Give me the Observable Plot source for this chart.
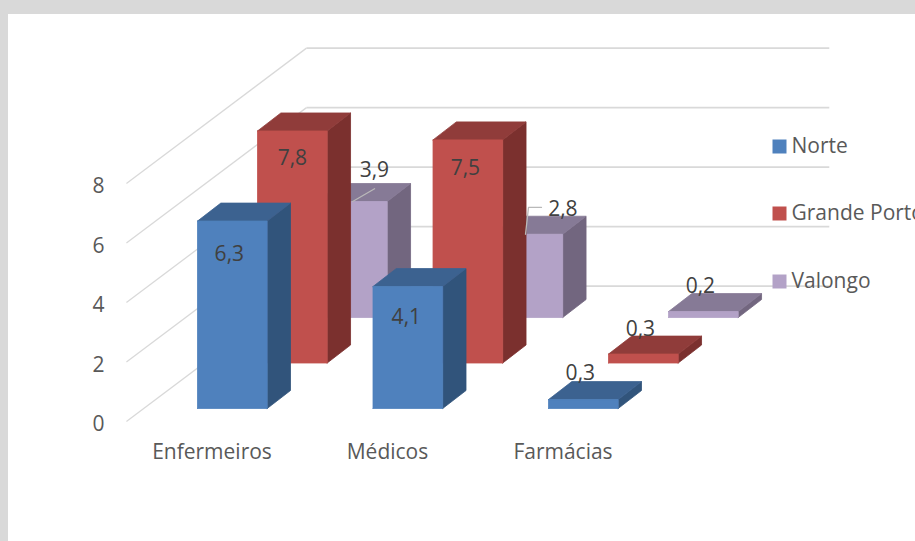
<!DOCTYPE html>
<html>
<head>
<meta charset="utf-8">
<script src="https://cdn.jsdelivr.net/npm/d3@7"></script>
<script src="https://cdn.jsdelivr.net/npm/@observablehq/plot@0.6"></script>
<style>
html,body{margin:0;padding:0;background:#d9d9d9;overflow:hidden;width:915px;height:541px}
#chart{position:absolute;left:8px;top:14px;width:907px;height:527px;background:#fff;overflow:hidden}
svg{display:block;overflow:hidden}
</style>
</head>
<body>
<div id="chart"></div>
<script>
const categories = ["Enfermeiros", "Médicos", "Farmácias"];
const seriesNames = ["Norte", "Grande Porto", "Valongo"];
const norte = [6.3, 4.1, 0.3];
const grandePorto = [7.8, 7.5, 0.3];
const valongo = [3.9, 2.8, 0.2];
const seriesValues = [norte, grandePorto, valongo];
const yTicks = [0, 2, 4, 6, 8];
const frontColors = ["#4f81bd", "#c0504d", "#b3a2c7"];
const topColors = ["#3c6290", "#903c3a", "#867a96"];
const sideColors = ["#31547b", "#7b302e", "#72667f"];

// scale geometry
const xRange = [189, 364.5], yRange = [407, 169], yDomain = [0, 8];
const pxX = (yRange[0] - yRange[1]) / yDomain[1];
const pxCat = xRange[1] - xRange[0];

// oblique projection, in units of the two scales
const barW = 0.397, sideX = 0.133, sideY = 0.605;
const seriesX = 0.342, seriesY = 1.529, floorY = 0.437;
const wallLeft = -0.405, wallX = 0.621, wallRight = 3.6, wallY = 4.55;

const faces = [];
for (let s = 2; s >= 0; s--) {
  for (let c = 0; c < categories.length; c++) {
    const v = seriesValues[s][c];
    const x0 = c + s * seriesX, y0 = floorY + s * seriesY;
    const x1 = x0 + barW, y1 = y0 + v;
    const add = (name, color, pts) =>
      [...pts, pts[0]].forEach(([x, y]) => faces.push({id: `${s}-${c}-${name}`, color, x, y}));
    add("side", sideColors[s], [[x1, y0], [x1 + sideX, y0 + sideY], [x1 + sideX, y1 + sideY], [x1, y1]]);
    add("top", topColors[s], [[x0, y1], [x1, y1], [x1 + sideX, y1 + sideY], [x0 + sideX, y1 + sideY]]);
    add("front", frontColors[s], [[x0, y0], [x1, y0], [x1, y1], [x0, y1]]);
  }
}

// value labels: offset from the top-centre of each bar's front face, in pixels
const labelNudge = [
  [[-3, 33], [-1.5, 31], [-3, -26]],
  [[0, 27], [-2.5, 28], [-3, -25]],
  [[22, -31], [35, -25], [-3, -25]]
];
const labels = [];
seriesValues.forEach((vals, s) => vals.forEach((v, c) => labels.push({
  text: String(v).replace(".", ","),
  x: c + s * seriesX + barW / 2 + labelNudge[s][c][0] / pxCat,
  y: floorY + s * seriesY + v - labelNudge[s][c][1] / pxX
})));

// leader lines for the two Valongo labels
const yTop = (c) => floorY + 2 * seriesY + valongo[c];
const xBar = (c) => c + 2 * seriesX;
const leaders = [
  {id: "a", x: xBar(0) + 0.2, y: yTop(0)},
  {id: "a", x: xBar(0) + 0.325, y: yTop(0) + 0.43},
  {id: "b", x: xBar(1) + 0.185, y: yTop(1)},
  {id: "b", x: xBar(1) + 0.202, y: yTop(1) + 0.9},
  {id: "b", x: xBar(1) + 0.276, y: yTop(1) + 0.9}
];

const marginLeft = 99;
const legendTop = [132, 199, 267];

const font = "'Open Sans', sans-serif";
const chart = Plot.plot({
  width: 907,
  height: 527,
  marginLeft,
  marginBottom: 103,
  marginTop: 0,
  marginRight: 0,
  style: {background: "#fff", fontFamily: font, fontSize: "21px", overflow: "hidden"},
  x: {type: "linear", domain: [0, 1], range: xRange, label: null},
  y: {type: "linear", domain: yDomain, range: yRange, label: null},
  marks: [
    Plot.link(yTicks, {x1: wallLeft, y1: d => d, x2: wallX, y2: d => d + wallY, stroke: "#d9d9d9", strokeWidth: 1.3}),
    Plot.link(yTicks, {x1: wallX, y1: d => d + wallY, x2: wallRight, y2: d => d + wallY, stroke: "#d9d9d9", strokeWidth: 1.6}),
    Plot.axisY({ticks: yTicks, tickSize: 0, tickPadding: 3, label: null, color: "#595959", fontSize: 21, dy: 3}),
    Plot.axisX({ticks: [0, 1, 2], tickSize: 0, tickPadding: 3, label: null, tickFormat: i => categories[i], dx: 14.5, dy: 3, color: "#595959", fontSize: 21}),
    Plot.line(faces, {x: "x", y: "y", z: "id", fill: "color", stroke: "color", strokeWidth: 0.8, curve: "linear"}),
    Plot.line(leaders, {x: "x", y: "y", z: "id", stroke: "#b9b9b9", strokeWidth: 1.3}),
    Plot.text(labels, {x: "x", y: "y", text: "text", fill: "#404040", fontSize: 21}),
    ...seriesNames.flatMap((name, i) => [
      Plot.dot([name], {frameAnchor: "top-left", dx: 771 - marginLeft, dy: legendTop[i], symbol: "square", r: 7.9, fill: frontColors[i], stroke: "none"}),
      Plot.text([name], {frameAnchor: "top-left", dx: 783 - marginLeft, dy: legendTop[i], text: d => d, textAnchor: "start", lineAnchor: "middle", fill: "#595959", fontSize: 21})
    ])
  ]
});
document.getElementById("chart").appendChild(chart);
</script>
</body>
</html>
